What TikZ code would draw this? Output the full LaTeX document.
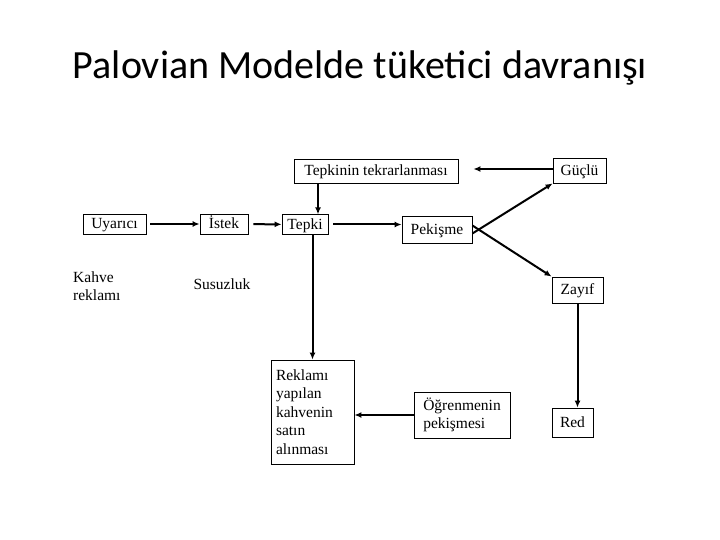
\documentclass[tikz,border=0pt]{standalone}
\usepackage{fontspec}
\setmainfont{Liberation Serif}
\newfontfamily\titlefont{Carlito}
\usetikzlibrary{arrows.meta,positioning,calc}
\tikzset{box/.style={draw,line width=.8pt,inner sep=3pt,font=\fontsize{15.5}{18.5}\selectfont},one/.style={box,inner ysep=2pt,text height=12.5pt,text depth=3pt},lbl/.style={align=left,inner sep=0pt,font=\fontsize{15.5}{18}\selectfont},arr/.style={-{Latex[length=7pt,width=6pt]},line width=2pt}}

\begin{document}
\begin{tikzpicture}[x=1pt,y=-1pt]
\useasboundingbox (0,0) rectangle (720,540);
\node[font=\titlefont\fontsize{40}{44}\selectfont] (title) at (360,68){Palovian Modelde tüketici davranışı};
% upper row
\node[one,minimum width=164pt,minimum height=24pt] (tekrar) at (376,171){Tepkinin tekrarlanması};
\node[one,minimum width=53pt,minimum height=25pt] (guclu) at (579.5,170.5){Güçlü};
\node[one,minimum width=63pt,minimum height=20pt] (uyarici) at (114.5,224){Uyarıcı};
\node[one,minimum width=48pt,minimum height=20pt] (istek) at (224,224){İstek};
\node[one,minimum width=46pt,minimum height=19pt] (tepki) at (305,224.5){Tepki};
\node[one,minimum width=70pt,minimum height=27pt] (pekisme) at (437,229.5){Pekişme};
\node[one,minimum width=51pt,minimum height=26pt] (zayif) at (577.5,290){Zayıf};
\node[lbl,anchor=north west] (kahve) at (73,272){Kahve\\reklamı};
\node[lbl] (susuz) at (222,284){Susuzluk};
% lower row
\node[box,align=left,minimum width=83pt,minimum height=104pt,text width=73pt] (reklam) at (312.5,412){Reklamı\\yapılan\\kahvenin\\satın\\alınması};
\node[box,align=left,minimum width=96pt,minimum height=46pt] (ogren) at (462,415){Öğrenmenin\\pekişmesi};
\node[one,minimum width=41pt,minimum height=29pt] (red) at (572.5,422.5){Red};
% arrows
\draw[arr,shorten <=4pt](uyarici)--(istek);
\draw[arr,shorten <=5pt](istek)--(tepki);
\draw[arr,shorten <=5pt](tepki)--(tepki-|pekisme.west);
\draw[arr,shorten >=15pt](guclu.west|-169,169)--(tekrar.east|-169,169);
\draw[arr]([xshift=13pt]tepki.north|-tekrar.south)--([xshift=13pt]tepki.north);
\draw[arr]([yshift=-4pt]pekisme.east)--(guclu.south west);
\draw[arr]([yshift=4pt]pekisme.east)--(zayif.north west);
\draw[arr](tepki.south-|reklam.north)--(reklam.north);
\draw[arr](ogren.west)--(ogren.west-|reklam.east);
\draw[arr](zayif.south)--(zayif.south|-red.north);
\end{tikzpicture}
\end{document}
